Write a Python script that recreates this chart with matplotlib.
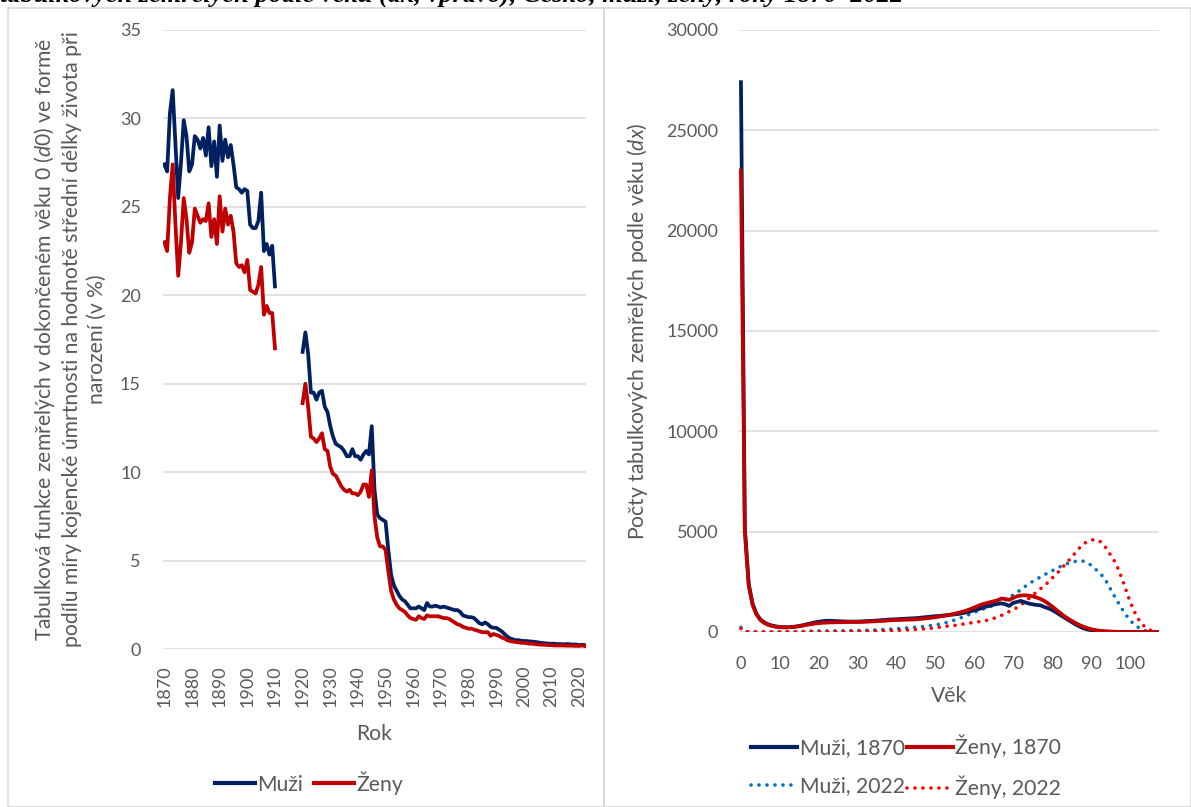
import numpy as np
import matplotlib
matplotlib.use("Agg")
import matplotlib.pyplot as plt
from matplotlib.patches import Rectangle
from matplotlib.lines import Line2D

plt.rcParams['font.family'] = ['Lato', 'DejaVu Sans']
plt.rcParams['mathtext.fontset'] = 'custom'
plt.rcParams['mathtext.rm'] = 'Lato'
plt.rcParams['mathtext.it'] = 'Lato:italic'

# ---------------- left panel data (d0 share, %) ----------------
years = list(range(1870, 2023))
muzi_1870_1910 = [27.4, 27.0, 30.3, 31.6, 28.5, 25.5, 27.5, 29.9, 29.0, 27.0,
                  27.4, 29.0, 28.8, 28.3, 28.9, 27.9, 29.5, 27.3, 28.7, 26.7,
                  29.6, 27.6, 28.8, 27.8, 28.5, 27.4, 26.1, 26.0, 25.8, 26.0,
                  25.9, 24.0, 23.8, 23.8, 24.2, 25.8, 22.5, 22.9, 22.3, 22.8,
                  20.5]
zeny_1870_1910 = [23.0, 22.5, 25.5, 27.4, 24.0, 21.1, 23.0, 25.5, 24.3, 22.4,
                  23.0, 24.9, 24.5, 24.1, 24.3, 24.2, 25.2, 23.3, 24.3, 22.9,
                  25.6, 23.6, 24.9, 24.0, 24.5, 23.6, 21.8, 21.6, 21.7, 21.3,
                  22.0, 20.3, 20.2, 20.1, 20.6, 21.6, 18.9, 19.4, 19.0, 19.0,
                  17.0]
muzi_1920_2022 = [16.8, 17.9, 16.7, 14.5, 14.5, 14.1, 14.5, 14.6, 13.7, 13.4,
                  12.6, 12.0, 11.6, 11.5, 11.4, 11.2, 10.9, 10.9, 11.3, 10.9,
                  10.9, 10.7, 11.0, 11.2, 11.0, 12.6, 9.0, 7.6, 7.4, 7.3,
                  7.2, 5.6, 4.2, 3.6, 3.3, 3.0, 2.8, 2.7, 2.5, 2.3,
                  2.3, 2.3, 2.4, 2.3, 2.2, 2.6, 2.4, 2.4, 2.45, 2.4,
                  2.35, 2.4, 2.35, 2.3, 2.25, 2.2, 2.2, 2.1, 1.9, 1.85,
                  1.8, 1.8, 1.75, 1.6, 1.45, 1.4, 1.5, 1.4, 1.25, 1.2,
                  1.2, 1.1, 1.0, 0.85, 0.7, 0.6, 0.55, 0.5, 0.5, 0.47,
                  0.45, 0.45, 0.43, 0.42, 0.4, 0.38, 0.35, 0.33, 0.32, 0.3,
                  0.3, 0.3, 0.28, 0.28, 0.27, 0.27, 0.28, 0.26, 0.25, 0.25,
                  0.22, 0.24, 0.22]
zeny_1920_2022 = [13.9, 15.0, 13.7, 12.0, 11.9, 11.7, 11.9, 12.2, 11.3, 11.2,
                  10.3, 9.9, 9.8, 9.5, 9.2, 9.0, 8.9, 9.0, 8.8, 8.8,
                  8.7, 8.9, 9.3, 9.3, 8.6, 10.1, 7.5, 6.3, 5.8, 5.8,
                  5.6, 4.4, 3.3, 2.8, 2.5, 2.3, 2.2, 2.1, 1.9, 1.75,
                  1.7, 1.65, 1.85, 1.75, 1.7, 1.9, 1.85, 1.85, 1.85, 1.85,
                  1.8, 1.75, 1.75, 1.7, 1.6, 1.5, 1.4, 1.35, 1.25, 1.2,
                  1.15, 1.15, 1.1, 1.05, 1.0, 0.95, 0.95, 0.95, 0.75, 0.85,
                  0.8, 0.75, 0.65, 0.6, 0.5, 0.45, 0.42, 0.4, 0.38, 0.35,
                  0.35, 0.33, 0.3, 0.3, 0.28, 0.26, 0.25, 0.24, 0.23, 0.22,
                  0.22, 0.2, 0.2, 0.2, 0.2, 0.19, 0.19, 0.19, 0.18, 0.18,
                  0.17, 0.2, 0.17]
gap = [np.nan] * 9  # 1911-1919 missing
muzi_d0 = muzi_1870_1910 + gap + muzi_1920_2022
zeny_d0 = zeny_1870_1910 + gap + zeny_1920_2022
left_xticks = list(range(1870, 2021, 10))
left_yticks = [0, 5, 10, 15, 20, 25, 30, 35]

# ---------------- right panel data (dx) ----------------
ages = list(range(0, 108))
muzi_1870 = [27400, 5200, 2400, 1400, 900, 620, 480, 380, 320, 280,
             250, 240, 240, 250, 270, 300, 340, 390, 430, 480,
             510, 540, 560, 560, 550, 540, 530, 520, 520, 520,
             520, 530, 540, 550, 560, 570, 590, 600, 620, 630,
             640, 650, 660, 670, 680, 690, 710, 730, 750, 770,
             790, 800, 820, 840, 860, 880, 900, 940, 980, 1030,
             1080, 1130, 1200, 1260, 1310, 1360, 1400, 1430, 1380, 1300,
             1450, 1500, 1550, 1480, 1420, 1380, 1350, 1330, 1250, 1180,
             1100, 980, 860, 740, 620, 500, 380, 280, 190, 130,
             90, 60, 40, 25, 15, 10, 6, 4, 2, 1,
             0, 0, 0, 0, 0, 0, 0, 0]
zeny_1870 = [23000, 5000, 2300, 1350, 880, 600, 450, 360, 300, 260,
             240, 230, 230, 240, 260, 290, 320, 360, 390, 420,
             440, 460, 470, 480, 480, 490, 490, 500, 500, 500,
             500, 500, 510, 520, 530, 540, 550, 560, 580, 590,
             600, 600, 610, 620, 620, 630, 650, 670, 690, 710,
             740, 770, 800, 830, 870, 910, 960, 1010, 1070, 1140,
             1220, 1300, 1380, 1430, 1480, 1530, 1580, 1670, 1640, 1600,
             1700, 1780, 1820, 1830, 1810, 1780, 1720, 1650, 1550, 1420,
             1280, 1120, 960, 810, 680, 560, 450, 350, 270, 200,
             140, 100, 70, 45, 30, 20, 12, 7, 4, 2,
             1, 0, 0, 0, 0, 0, 0, 0]
muzi_2022 = [230, 20, 12, 10, 8, 7, 7, 6, 6, 6,
             7, 8, 9, 11, 14, 20, 28, 36, 44, 48,
             50, 52, 53, 55, 56, 58, 60, 62, 64, 68,
             72, 78, 84, 90, 96, 104, 112, 122, 132, 145,
             160, 175, 190, 205, 220, 240, 260, 280, 300, 330,
             360, 390, 430, 480, 540, 600, 670, 740, 820, 900,
             980, 1050, 1120, 1190, 1260, 1330, 1410, 1500, 1600, 1720,
             1850, 1970, 2110, 2260, 2400, 2520, 2630, 2740, 2850, 2950,
             3050, 3150, 3250, 3330, 3410, 3470, 3520, 3550, 3530, 3460,
             3330, 3150, 3000, 2780, 2500, 2150, 1800, 1470, 1150, 850,
             600, 400, 250, 140, 70, 30, 10, 3]
zeny_2022 = [170, 15, 8, 6, 5, 5, 4, 4, 4, 4,
             5, 5, 6, 7, 8, 10, 12, 14, 16, 17,
             17, 18, 18, 19, 20, 21, 22, 24, 26, 28,
             30, 33, 36, 40, 44, 48, 52, 57, 63, 70,
             78, 86, 95, 105, 115, 127, 140, 155, 172, 190,
             210, 235, 262, 292, 310, 330, 360, 390, 420, 450,
             480, 510, 540, 570, 620, 680, 750, 830, 920, 1020,
             1110, 1220, 1350, 1500, 1660, 1830, 1990, 2150, 2300, 2480,
             2680, 2870, 3070, 3290, 3500, 3720, 3950, 4180, 4380, 4500,
             4580, 4610, 4560, 4420, 4150, 3850, 3550, 3150, 2650, 2100,
             1550, 1080, 700, 420, 230, 110, 45, 15]
right_xticks = list(range(0, 101, 10))
right_yticks = list(range(0, 30001, 5000))

# ---------------- styling ----------------
C_M = '#002060'
C_F = '#C00000'
C_M2 = '#0070C0'
C_F2 = '#FF0000'
GRID = '#D9D9D9'
TXT = '#595959'
FS = 13
FL = 15.2

W, H = 1191, 807
fig = plt.figure(figsize=(W / 100, H / 100), dpi=100)

# panel borders
for (x0, x1) in [(8, 604), (604, 1191)]:
    fig.patches.append(Rectangle((x0 / W, 0), (x1 - x0) / W, 1 - 8 / H,
                                 transform=fig.transFigure, fill=False,
                                 edgecolor=GRID, linewidth=1.2))

# cut-off title at top (the reference shows only its lower part)
fig.text(0 / W, 1 - 1.5 / H,
         'tabulkových zemřelých podle věku (dx, vpravo), Česko, muži, ženy, roky 1870–2022',
         family='Liberation Serif', style='italic', weight='bold', fontsize=19,
         ha='left', va='baseline', color='black')


def style_axes(ax):
    for s in ax.spines.values():
        s.set_visible(False)
    ax.grid(axis='y', color=GRID, linewidth=1.1)
    ax.set_axisbelow(True)
    ax.tick_params(length=0, labelsize=FS, labelcolor=TXT)


# ---------------- left axes ----------------
axL = fig.add_axes([163 / W, (H - 649) / H, 423 / W, 619 / H])
style_axes(axL)
axL.plot(years, muzi_d0, color=C_M, lw=2.7, solid_joinstyle='round', label='Muži')
axL.plot(years, zeny_d0, color=C_F, lw=2.7, solid_joinstyle='round', label='Ženy')
axL.set_xlim(1869.5, 2022.5)
axL.set_ylim(0, 35)
axL.set_yticks(left_yticks)
axL.set_xticks(left_xticks)
axL.set_xticklabels([str(t) for t in left_xticks], rotation=90)
axL.tick_params(axis='y', pad=16)
axL.tick_params(axis='x', pad=12)
axL.set_xlabel('Rok', fontsize=FL, color=TXT, labelpad=12)
axL.set_ylabel('Tabulková funkce zemřelých v dokončeném věku 0 ($d0$) ve formě\n'
               'podílu míry kojencké úmrtnosti na hodnotě střední délky života při\n'
               'narození (v %)', fontsize=FL, color=TXT, labelpad=9,
               linespacing=1.32)
legL = fig.legend(handles=[Line2D([], [], color=C_M, lw=3),
                           Line2D([], [], color=C_F, lw=3)],
                  labels=['Muži', 'Ženy'], ncol=2, frameon=False,
                  loc='center', bbox_to_anchor=(309 / W, 1 - 783 / H),
                  fontsize=FL, handlelength=1.9, handletextpad=0.12,
                  columnspacing=0.5, labelcolor=TXT)

# ---------------- right axes ----------------
axR = fig.add_axes([739 / W, (H - 632) / H, 420 / W, 602 / H])
style_axes(axR)
dot = (0, (0.01, 2.2))
axR.plot(ages, muzi_2022, color=C_M2, lw=2.6, linestyle=dot,
         dash_capstyle='round')
axR.plot(ages, zeny_2022, color=C_F2, lw=2.6, linestyle=dot,
         dash_capstyle='round')
axR.plot(ages, muzi_1870, color=C_M, lw=2.7, solid_joinstyle='round')
axR.plot(ages, zeny_1870, color=C_F, lw=2.7, solid_joinstyle='round')
axR.set_xlim(-0.5, 107.5)
axR.set_ylim(0, 30000)
axR.set_xticks(right_xticks)
axR.set_yticks(right_yticks)
axR.tick_params(axis='y', pad=15)
axR.tick_params(axis='x', pad=17)
axR.set_xlabel('Věk', fontsize=FL, color=TXT, labelpad=10)
axR.set_ylabel('Počty tabulkových zemřelých podle věku ($dx$)',
               fontsize=FL, color=TXT, labelpad=12)

h_m = Line2D([], [], color=C_M, lw=3)
h_f = Line2D([], [], color=C_F, lw=3)
h_m2 = Line2D([], [], color=C_M2, lw=2.6, linestyle=dot, dash_capstyle='round')
h_f2 = Line2D([], [], color=C_F2, lw=2.6, linestyle=dot, dash_capstyle='round')
legR = fig.legend(handles=[h_m, h_m2, h_f, h_f2],
                  labels=['Muži, 1870', 'Muži, 2022', 'Ženy, 1870', 'Ženy, 2022'],
                  ncol=2, frameon=False, loc='center',
                  bbox_to_anchor=(906 / W, 1 - 767 / H), fontsize=FL,
                  handlelength=2.2, handletextpad=0.1, columnspacing=0.1,
                  labelspacing=0.85, labelcolor=TXT)

fig.savefig('out.png', dpi=100)
